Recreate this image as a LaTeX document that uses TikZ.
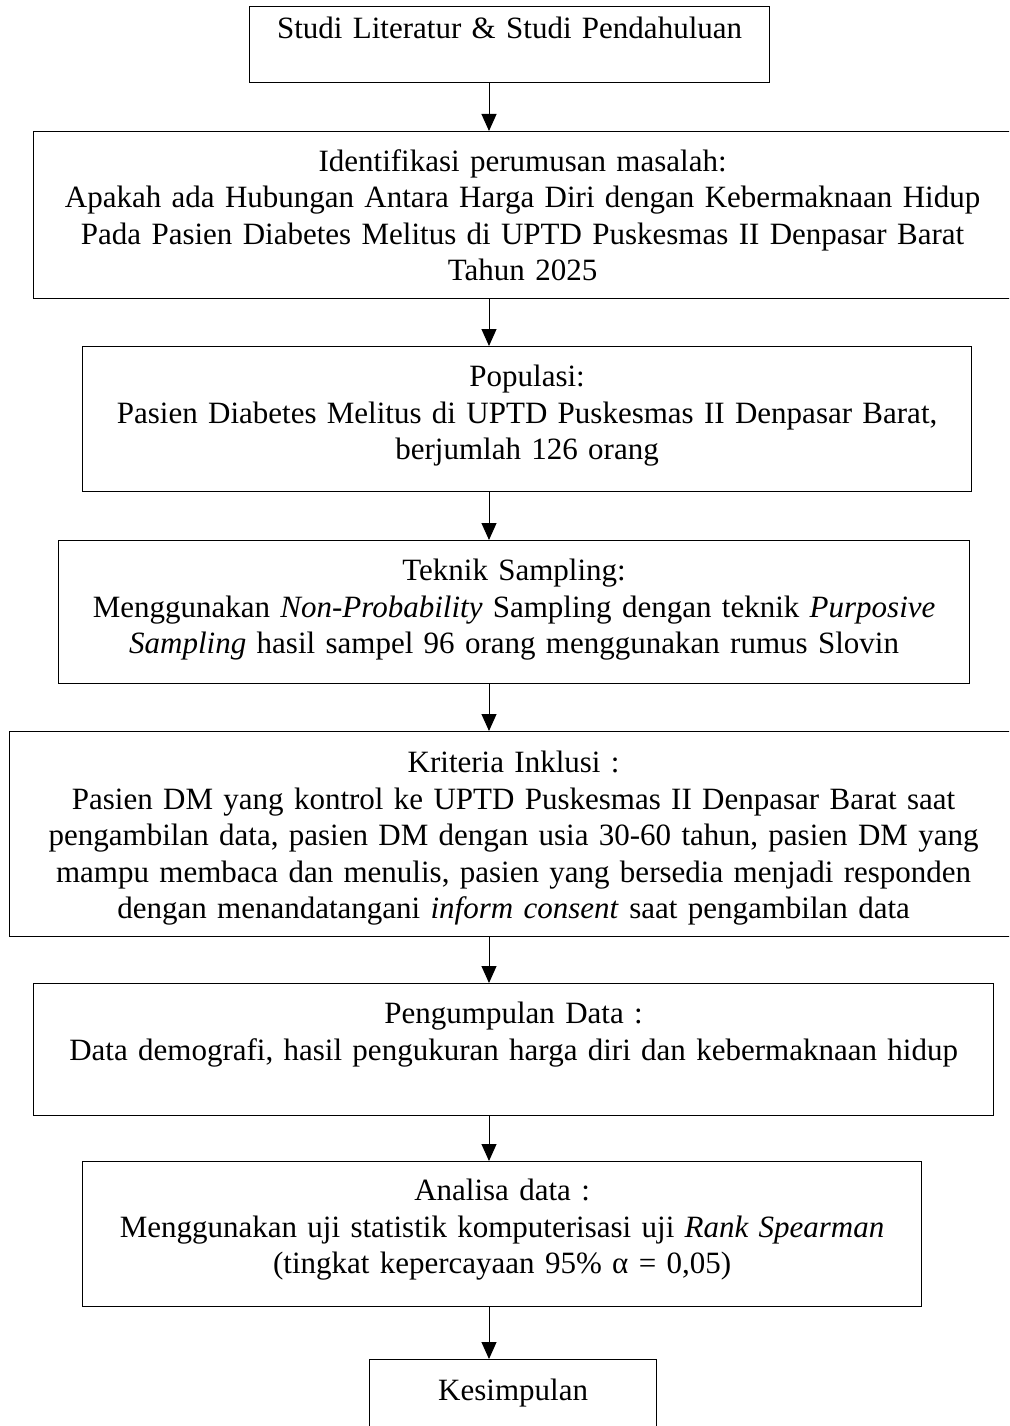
\documentclass[tikz,border=0pt]{standalone}
\usepackage{fontspec}
\setmainfont{Liberation Serif}
\usepackage{tikz}
\usetikzlibrary{arrows.meta, positioning}

\begin{document}
\begin{tikzpicture}[
    x=1pt, y=-1pt,
    font=\fontsize{31}{36.5}\selectfont,
    box/.style={rectangle, draw=black, line width=1.2pt, fill=white, align=center, inner sep=0pt, anchor=north west},
    arr/.style={-{Triangle[width=15pt, length=17pt]}, line width=1pt}
]
\useasboundingbox (0,0) rectangle (1009,1426);
\clip (0,0) rectangle (1009,1426);

\coordinate (ax) at (489,0);

\node[box, text width=520pt, text height=32pt, text depth=44pt] (studi) at (249,6) {Studi Literatur \& Studi Pendahuluan};
\node[box, text width=978pt, text height=39.5pt, text depth=127.5pt] (rumusan) at (33,131) {Identifikasi perumusan masalah:\\Apakah ada Hubungan Antara Harga Diri dengan Kebermaknaan Hidup\\Pada Pasien Diabetes Melitus di UPTD Puskesmas II Denpasar Barat\\Tahun 2025};
\node[box, text width=889pt, text height=40pt, text depth=105pt] (populasi) at (82,346) {Populasi:\\Pasien Diabetes Melitus di UPTD Puskesmas II Denpasar Barat,\\berjumlah 126 orang};
\node[box, text width=911pt, text height=40pt, text depth=103pt] (sampling) at (58,540) {Teknik Sampling:\\Menggunakan \textit{Non-Probability} Sampling dengan teknik \textit{Purposive}\\\textit{Sampling} hasil sampel 96 orang menggunakan rumus Slovin};
\node[box, text width=1008pt, text height=41pt, text depth=164pt] (inklusi) at (9,731) {Kriteria Inklusi :\\Pasien DM yang kontrol ke UPTD Puskesmas II Denpasar Barat saat\\pengambilan data, pasien DM dengan usia 30-60 tahun, pasien DM yang\\mampu membaca dan menulis, pasien yang bersedia menjadi responden\\dengan menandatangani \textit{inform consent} saat pengambilan data};
\node[box, text width=960pt, text height=40pt, text depth=92pt] (pengumpulan) at (33,983) {Pengumpulan Data :\\Data demografi, hasil pengukuran harga diri dan kebermaknaan hidup};
\node[box, text width=839pt, text height=39pt, text depth=106pt] (analisa) at (82,1161) {Analisa data :\\Menggunakan uji statistik komputerisasi uji \textit{Rank Spearman}\\(tingkat kepercayaan 95\% α = 0,05)};
\node[box, text width=287pt, text height=41pt, text depth=39pt] (kesimpulan) at (369,1359) {Kesimpulan};

\draw[arr] (studi.south -| ax) -- (rumusan.north -| ax);
\draw[arr] (rumusan.south -| ax) -- (populasi.north -| ax);
\draw[arr] (populasi.south -| ax) -- (sampling.north -| ax);
\draw[arr] (sampling.south -| ax) -- (inklusi.north -| ax);
\draw[arr] (inklusi.south -| ax) -- (pengumpulan.north -| ax);
\draw[arr] (pengumpulan.south -| ax) -- (analisa.north -| ax);
\draw[arr] (analisa.south -| ax) -- (kesimpulan.north -| ax);

\end{tikzpicture}
\end{document}
